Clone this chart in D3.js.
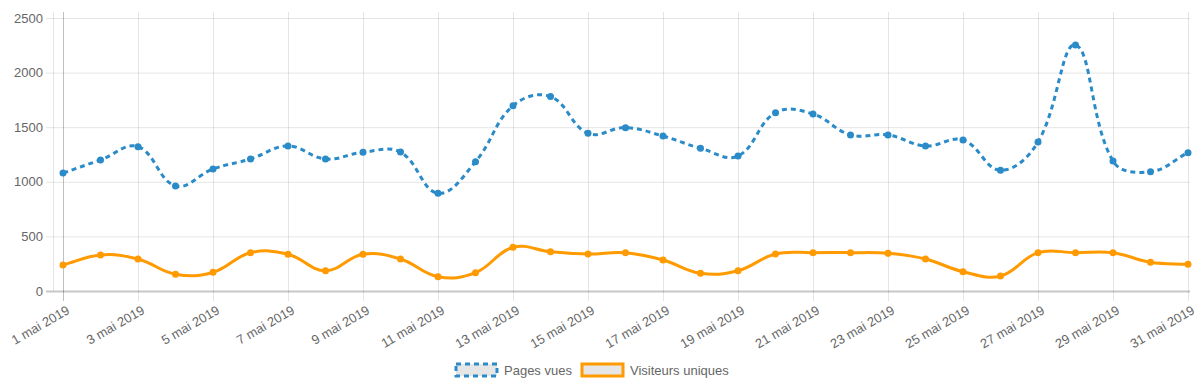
<!DOCTYPE html>
<meta charset="utf-8">
<script src="https://d3js.org/d3.v7.min.js"></script>
<style>
  body { margin: 0; background: #fff; }
  text { font-family: "Liberation Sans", Arial, sans-serif; fill: #666; }
</style>
<div id="chart"></div>
<script>

// Données (mai 2019)
var jours = d3.range(1, 32);
var pagesVues = [1080, 1200, 1322, 962, 1117, 1209, 1328, 1209, 1270, 1272, 895,
                 1184, 1696, 1780, 1444, 1496, 1419, 1307, 1236, 1633, 1621,
                 1429, 1429, 1328, 1383, 1106, 1365, 2253, 1190, 1093, 1267];
var visiteurs = [238, 330, 293, 153, 171, 351, 336, 186, 336, 293, 131,
                 168, 400, 360, 339, 351, 284, 162, 186, 339, 351,
                 351, 345, 293, 177, 137, 351, 351, 351, 263, 245];
var yTicks = [0, 500, 1000, 1500, 2000, 2500];
var series = [
  {nom: "Pages vues", valeurs: pagesVues, couleur: "#2a8bc8", dash: "5,4"},
  {nom: "Visiteurs uniques", valeurs: visiteurs, couleur: "#ff9a00", dash: null}
];

var W = 1200, H = 386;
var svg = d3.select("#chart").append("svg")
    .attr("width", W)
    .attr("height", H);

// Échelles
var x = d3.scaleLinear().domain([1, 31]).range([63, 1188]);
var y = d3.scaleLinear().domain([0, 2500]).range([291, 18]);

// Grille horizontale
svg.selectAll(".hgrid")
  .data(yTicks)
  .enter().append("line")
    .attr("x1", 46).attr("x2", 1190)
    .attr("y1", function(d) { return y(d) + 0.5; })
    .attr("y2", function(d) { return y(d) + 0.5; })
    .attr("stroke", function(d) { return d === 0 ? "rgba(0,0,0,0.22)" : "rgba(0,0,0,0.1)"; })
    .attr("stroke-width", function(d) { return d === 0 ? 2 : 1; });

// Bord gauche de l'axe Y
svg.append("line")
  .attr("x1", 53.5).attr("x2", 53.5)
  .attr("y1", 12).attr("y2", 291)
  .attr("stroke", "rgba(0,0,0,0.1)");

// Grille verticale (un jour sur deux)
var joursLabel = jours.filter(function(d) { return d % 2 === 1; });
svg.selectAll(".vgrid")
  .data(joursLabel)
  .enter().append("line")
    .attr("x1", function(d) { return Math.round(x(d)) + 0.5; })
    .attr("x2", function(d) { return Math.round(x(d)) + 0.5; })
    .attr("y1", 12).attr("y2", 301)
    .attr("stroke", function(d) { return d === 1 ? "rgba(0,0,0,0.25)" : "rgba(0,0,0,0.1)"; });

// Étiquettes Y
svg.selectAll(".ylab")
  .data(yTicks)
  .enter().append("text")
    .attr("x", 43)
    .attr("y", function(d) { return y(d) + 4.5; })
    .attr("text-anchor", "end")
    .style("font-size", "13px")
    .text(function(d) { return d; });

// Étiquettes X (inclinées)
svg.selectAll(".xlab")
  .data(joursLabel)
  .enter().append("text")
    .attr("transform", function(d) { return "translate(" + (x(d) + 3) + ",305) rotate(-30)"; })
    .attr("text-anchor", "end")
    .attr("dy", "0.7em")
    .style("font-size", "13px")
    .text(function(d) { return d + " mai 2019"; });

// Courbe à la manière de Chart.js (tension 0.4)
function courbe(pts, t) {
  var n = pts.length;
  var ctrl = pts.map(function(p, i) {
    var prev = pts[i - 1] || p, next = pts[i + 1] || p;
    var d01 = Math.hypot(p[0] - prev[0], p[1] - prev[1]);
    var d12 = Math.hypot(next[0] - p[0], next[1] - p[1]);
    var s01 = d01 / (d01 + d12) || 0, s12 = d12 / (d01 + d12) || 0;
    var fa = t * s01, fb = t * s12;
    return {
      prev: [p[0] - fa * (next[0] - prev[0]), Math.min(291, Math.max(12, p[1] - fa * (next[1] - prev[1])))],
      next: [p[0] + fb * (next[0] - prev[0]), Math.min(291, Math.max(12, p[1] + fb * (next[1] - prev[1])))]
    };
  });
  var path = d3.path();
  path.moveTo(pts[0][0], pts[0][1]);
  for (var i = 1; i < n; i++) {
    path.bezierCurveTo(ctrl[i - 1].next[0], ctrl[i - 1].next[1],
                       ctrl[i].prev[0], ctrl[i].prev[1], pts[i][0], pts[i][1]);
  }
  return path.toString();
}

// Séries (orange dessous, bleu dessus)
series.slice().reverse().forEach(function(s) {
  var pts = s.valeurs.map(function(v, i) { return [x(jours[i]), y(v)]; });
  svg.append("path")
    .attr("d", courbe(pts, 0.4))
    .attr("fill", "none")
    .attr("stroke", s.couleur)
    .attr("stroke-width", 3)
    .attr("stroke-dasharray", s.dash);
  svg.selectAll(null)
    .data(pts)
    .enter().append("circle")
      .attr("cx", function(d) { return d[0]; })
      .attr("cy", function(d) { return d[1]; })
      .attr("r", 3.5)
      .attr("fill", s.couleur);
});

// Légende
var legX = [456, 582];
var leg = svg.selectAll(".leg")
  .data(series)
  .enter().append("g")
    .attr("transform", function(d, i) { return "translate(" + legX[i] + ",364)"; });
leg.append("rect")
  .attr("width", 41).attr("height", 12)
  .attr("fill", "#e6e6e6")
  .attr("stroke", function(d) { return d.couleur; })
  .attr("stroke-width", 3)
  .attr("stroke-dasharray", function(d) { return d.dash; });
leg.append("text")
  .attr("x", 48).attr("y", 11)
  .style("font-size", "13px")
  .text(function(d) { return d.nom; });

</script>
